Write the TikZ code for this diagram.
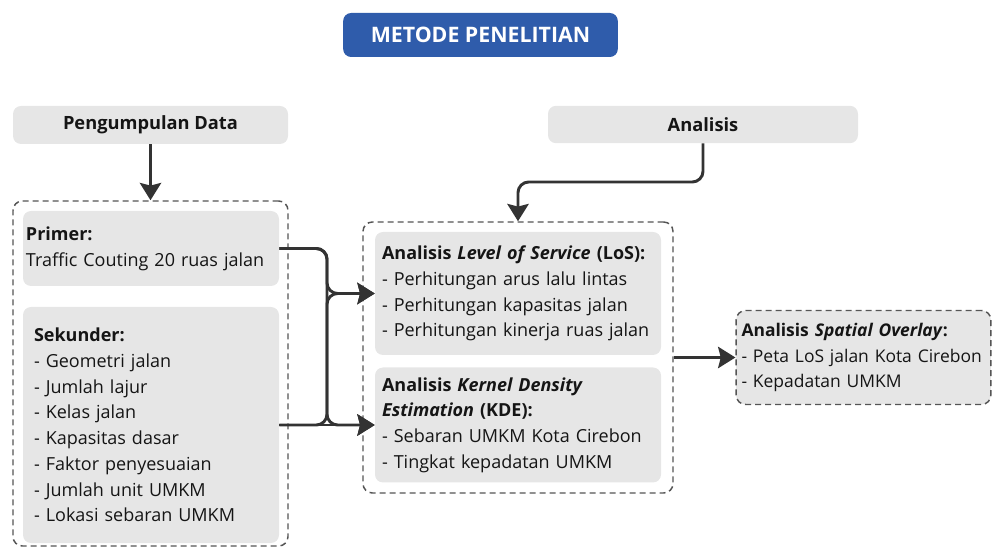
\documentclass[tikz,border=0pt]{standalone}
\usepackage{fontspec}
\setmainfont{Open Sans}
\usetikzlibrary{arrows.meta}
\definecolor{boxgray}{HTML}{E6E6E6}
\definecolor{titleblue}{HTML}{2F5CAB}
\definecolor{linegray}{HTML}{333333}
\definecolor{dashgray}{HTML}{555555}
\definecolor{textdark}{HTML}{151515}
\begin{document}
\begin{tikzpicture}[x=0.75pt, y=-0.75pt,
        graybox/.style={rectangle, rounded corners=6pt, fill=boxgray, text=textdark,
            font=\fontsize{13.5}{19.3}\selectfont, align=left},
        headbox/.style={graybox, align=center, font=\fontsize{13.7}{19}\selectfont\bfseries},
        groupbox/.style={rectangle, rounded corners=7pt, draw=dashgray, line width=1.1pt,
            dash pattern=on 4.5pt off 3pt},
        conn/.style={draw=linegray, line width=2.2pt, rounded corners=8pt,
            -{Stealth[length=13pt, width=16pt, inset=2pt]}}]
    \useasboundingbox (0,0) rectangle (992,548);
    \node [rectangle, rounded corners=6pt, fill=titleblue, text=white,
        minimum width=206pt, minimum height=33pt,
        font=\fontsize{16}{19}\selectfont\bfseries] (title) at (480.5, 35) {METODE PENELITIAN};
    \node [headbox, minimum width=206.25pt, minimum height=28.5pt] (pengumpulan) at (150.5, 125) {Pengumpulan Data};
    \node [headbox, minimum width=232.5pt, minimum height=28pt] (analisis) at (703, 124.5) {Analisis};
%
    \node [groupbox, minimum width=206.25pt, minimum height=258.75pt] (datagrp) at (150.5, 373.5) {};
    \node [groupbox, minimum width=232.5pt, minimum height=203.25pt] (analisisgrp) at (518, 357.5) {};
%
    \node [graybox, text width=187.5pt, inner xsep=2.25pt, minimum height=56.25pt] (primer) at (151, 248.5)
        {\textbf{Primer:}\\Traffic Couting 20 ruas jalan};
    \node [graybox, text width=175.5pt, inner xsep=8.25pt, minimum height=177pt] (sekunder) at (151, 425)
        {\textbf{Sekunder:}\\- Geometri jalan\\- Jumlah lajur\\- Kelas jalan\\- Kapasitas dasar\\- Faktor penyesuaian\\- Jumlah unit UMKM\\- Lokasi sebaran UMKM};
    \node [graybox, text width=204pt, inner xsep=5.25pt, minimum height=92.25pt] (los) at (518, 293.5)
        {\textbf{Analisis \textit{Level of Service} (LoS):}\\- Perhitungan arus lalu lintas\\- Perhitungan kapasitas jalan\\- Perhitungan kinerja ruas jalan};
    \node [graybox, text width=204pt, inner xsep=5.25pt, minimum height=86.25pt] (kde) at (518, 425)
        {\textbf{Analisis \textit{Kernel Density}}\\\textbf{\textit{Estimation} (KDE):}\\- Sebaran UMKM Kota Cirebon\\- Tingkat kepadatan UMKM};
    \node [graybox, groupbox, fill=boxgray, text width=183pt, inner xsep=4pt, minimum height=70.5pt,
        font=\fontsize{13.1}{19.3}\selectfont] (overlay) at (863.5, 357.5)
        {\mbox{\textbf{Analisis \textit{Spatial Overlay}:}}\\\mbox{- Peta LoS jalan Kota Cirebon}\\\mbox{- Kepadatan UMKM}};
%
    \coordinate (bus) at (327, 0);
    \coordinate (bend) at (518, 182);
    \draw [conn] (pengumpulan) -- (datagrp);
    \draw [conn] (analisis.south) |- (bend) -- (analisisgrp.north);
    \draw [conn] (primer.east) -- (primer.east -| bus) |- (los.west);
    \draw [conn] (primer.east) -- (primer.east -| bus) |- (kde.west);
    \draw [conn] (sekunder.east) -- (sekunder.east -| bus) |- (los.west);
    \draw [conn] (sekunder.east) -- (kde.west);
    \draw [conn] (analisisgrp.east) -- (overlay.west);
\end{tikzpicture}
\end{document}
